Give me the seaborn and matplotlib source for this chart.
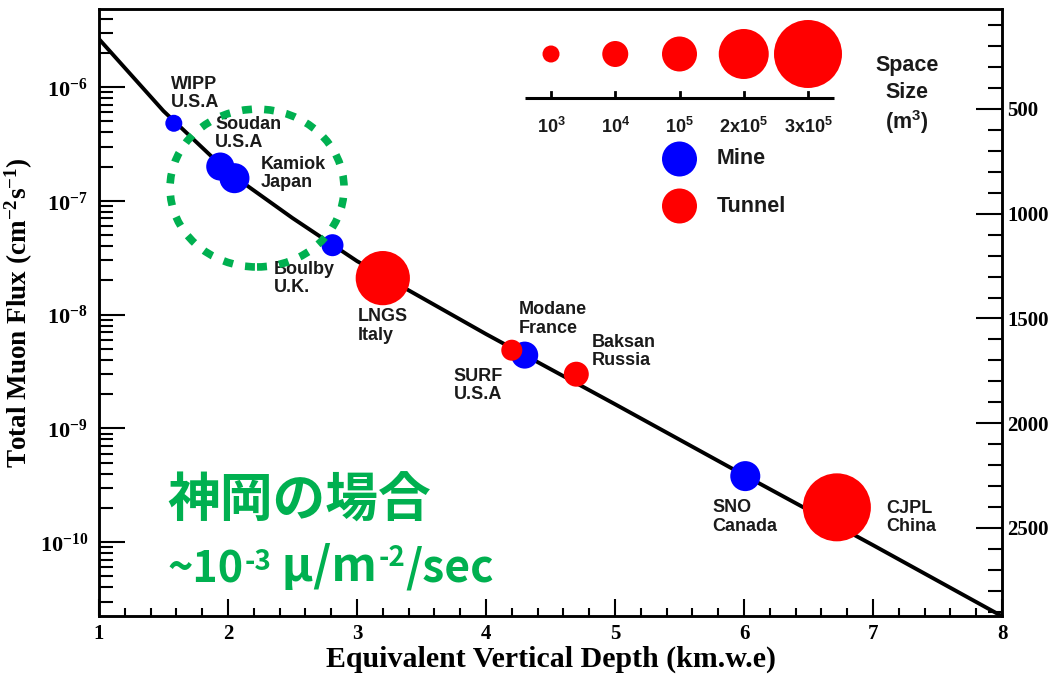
import numpy as np
import pandas as pd
import seaborn as sns
import matplotlib.pyplot as plt
from matplotlib.patches import Ellipse
from matplotlib.ticker import LogLocator, MultipleLocator, FixedLocator, FuncFormatter, NullFormatter

plt.rcParams['mathtext.fontset'] = 'custom'
plt.rcParams['mathtext.rm'] = 'Liberation Serif:bold'
plt.rcParams['mathtext.it'] = 'Liberation Serif:bold'
plt.rcParams['mathtext.bf'] = 'Liberation Serif:bold'
plt.rcParams['mathtext.sf'] = 'Liberation Sans:bold'

# flux vs depth curve
depth_curve = [1, 1.5, 2, 2.5, 3, 4, 5, 6, 7, 8]
flux_curve = [2.64e-6, 6.15e-7, 1.79e-7, 7.05e-8, 2.95e-8, 6.74e-9, 1.63e-9, 3.88e-10, 9.4e-11, 2.23e-11]

# underground labs
labs = ['WIPP', 'Soudan', 'Kamiok', 'Boulby', 'LNGS', 'Modane', 'SURF', 'Baksan', 'SNO', 'CJPL']
countries = ['U.S.A', 'U.S.A', 'Japan', 'U.K.', 'Italy', 'France', 'U.S.A', 'Russia', 'Canada', 'China']
lab_kind = ['Mine', 'Mine', 'Mine', 'Mine', 'Tunnel', 'Mine', 'Tunnel', 'Tunnel', 'Mine', 'Tunnel']
lab_depth = [1.58, 1.94, 2.05, 2.81, 3.20, 4.30, 4.20, 4.70, 6.01, 6.72]
lab_flux = [4.8e-7, 2.0e-7, 1.58e-7, 4.07e-8, 2.09e-8, 4.4e-9, 4.86e-9, 2.99e-9, 3.8e-10, 2.02e-10]
lab_volume = [1e3, 1.7e4, 2.8e4, 3.6e3, 2.2e5, 1.3e4, 2.8e3, 7.7e3, 2.8e4, 3.3e5]

# space size scale
size_ref = [1e3, 1e4, 1e5, 2e5, 3e5]
size_ref_labels = [r'$\mathsf{10^{3}}$', r'$\mathsf{10^{4}}$', r'$\mathsf{10^{5}}$',
                   r'$\mathsf{2x10^{5}}$', r'$\mathsf{3x10^{5}}$']

# axis ticks
flux_ticks = [1e-10, 1e-9, 1e-8, 1e-7, 1e-6]
right_ticks = [500, 1000, 1500, 2000, 2500]

# styles / layout
ref_radius_px = [8.5, 13, 17.5, 25, 34]
label_offsets = [(-3, 30), (-5, 33), (26, 5), (-59, -33), (-25, -48), (-6, 36),
                 (-58, -35), (15, 23), (-33, -41), (49, -10)]
BLUE = '#0000ff'
RED = '#ff0000'
GREEN = '#00b050'
DPI = 100


def marker_area(v):
    r = np.interp(np.log10(v), np.log10(size_ref), ref_radius_px)
    return (2 * r * 72 / DPI) ** 2


fig = plt.figure(figsize=(10.53, 6.79), dpi=DPI)
ax = fig.add_axes([99 / 1053, 1 - 616 / 679, 903 / 1053, 607 / 679])

sns.lineplot(x=depth_curve, y=flux_curve, ax=ax, color='black', lw=2.8)

df = pd.DataFrame({'depth': lab_depth, 'flux': lab_flux, 'kind': lab_kind, 'volume': lab_volume})
sns.scatterplot(data=df, x='depth', y='flux', hue='kind', palette={'Mine': BLUE, 'Tunnel': RED},
                size='volume', sizes={v: marker_area(v) for v in lab_volume},
                linewidth=0, legend=False, zorder=3, ax=ax)

for lab, c, d, f, off in zip(labs, countries, lab_depth, lab_flux, label_offsets):
    ax.annotate(f'{lab}\n{c}', xy=(d, f), xytext=off, textcoords='offset pixels',
                ha='left', va='center', fontsize=13, fontweight='bold',
                family='Liberation Sans', color='#1a1a1a', linespacing=1.1, zorder=4)

ax.set_yscale('log')
ax.set_xlim(1, 8)
ax.set_ylim(2.24e-11, 4.85e-6)
ax.set_xlabel('Equivalent Vertical Depth (km.w.e)', fontsize=21.5, fontweight='bold',
              family='Liberation Serif', labelpad=1)
ax.set_ylabel(r'Total Muon Flux (cm$^{-2}$s$^{-1}$)', fontsize=19.5, fontweight='bold',
              family='Liberation Serif', labelpad=3)
ax.set_xticks(range(1, 9))
ax.xaxis.set_minor_locator(MultipleLocator(0.2))
ax.yaxis.set_major_locator(FixedLocator(flux_ticks))
ax.yaxis.set_minor_locator(LogLocator(base=10, subs=np.arange(2, 10), numticks=20))
ax.yaxis.set_minor_formatter(NullFormatter())
ax.yaxis.set_major_formatter(FuncFormatter(lambda v, p: '$10^{%d}$' % int(round(np.log10(v)))))
ax.tick_params(axis='x', which='major', direction='in', length=12, width=1.5, labelsize=15, pad=6)
ax.tick_params(axis='x', which='minor', direction='in', length=6, width=1.5)
ax.tick_params(axis='y', which='major', direction='in', length=19, width=1.5, labelsize=16, pad=8)
ax.tick_params(axis='y', which='minor', direction='in', length=10, width=1.5)
for lbl in ax.get_xticklabels():
    lbl.set_family('Liberation Serif')
    lbl.set_fontweight('bold')
for s in ax.spines.values():
    s.set_linewidth(1.8)

ax2 = ax.twinx()
ax2.set_ylim(2920, 23)
ax2.set_yticks(right_ticks)
ax2.yaxis.set_minor_locator(MultipleLocator(100))
ax2.tick_params(axis='y', which='major', direction='in', length=19, width=1.5, labelsize=15, pad=4)
ax2.tick_params(axis='y', which='minor', direction='in', length=10, width=1.5)
for lbl in ax2.get_yticklabels():
    lbl.set_family('Liberation Serif')
    lbl.set_fontweight('bold')
for s in ax2.spines.values():
    s.set_linewidth(1.8)

# Kamioka region highlight
ax.add_patch(Ellipse((0.175, 0.705), 0.1927, 0.260, transform=ax.transAxes, fill=False,
                     ec=GREEN, lw=5.5, ls=(0, (1.3, 1.6)), zorder=6))

cjk = ['Noto Sans CJK JP', 'DejaVu Sans']
ax.text(0.0753, 0.1886, '神岡の場合', transform=ax.transAxes, fontsize=38, fontweight='bold',
        family=cjk, color=GREEN, va='center', ha='left')
t = ax.text(0.0753, 0.056, '~10', transform=ax.transAxes, fontsize=31, fontweight='bold',
            family=cjk, color=GREEN, va='baseline', ha='left')
s1 = ax.annotate('-3', xy=(1, 1), xycoords=t, xytext=(1, -1), textcoords='offset points',
                 fontsize=20, fontweight='bold', family=cjk, color=GREEN, va='top', ha='left')
t2 = ax.annotate(' μ/m', xy=(1, 0), xycoords=(s1, t), fontsize=34, fontweight='bold',
                 family=cjk, color=GREEN, va='bottom', ha='left')
s2 = ax.annotate('-2', xy=(1, 1), xycoords=t2, xytext=(1, -1), textcoords='offset points',
                 fontsize=20, fontweight='bold', family=cjk, color=GREEN, va='top', ha='left')
ax.annotate('/sec', xy=(1, 0), xycoords=(s2, t), fontsize=32, fontweight='bold',
            family=cjk, color=GREEN, va='bottom', ha='left')

# size / type legend
lax = fig.add_axes([500 / 1053, 1 - 240 / 679, 460 / 1053, 230 / 679])
idx = np.arange(len(size_ref))
sns.scatterplot(x=idx, y=[54] * len(idx), size=size_ref, sizes={v: marker_area(v) for v in size_ref},
                color=RED, linewidth=0, legend=False, ax=lax)
lax.plot([-0.405, 4.405], [98, 98], color='black', lw=2.2, solid_capstyle='butt')
for i, lbl in zip(idx, size_ref_labels):
    lax.plot([i, i], [98, 92], color='black', lw=2)
    lax.text(i, 127, lbl, ha='center', va='center', fontsize=13, color='#1a1a1a')
lax.text(5.54, 65, 'Space', ha='center', va='center', fontsize=15.5, fontweight='bold',
         family='Liberation Sans', color='#1a1a1a')
lax.text(5.54, 93, 'Size', ha='center', va='center', fontsize=15.5, fontweight='bold',
         family='Liberation Sans', color='#1a1a1a')
lax.text(5.54, 122, r'$\mathsf{(m^{3})}$', ha='center', va='center', fontsize=15.5, color='#1a1a1a')
kinds = ['Mine', 'Tunnel']
sns.scatterplot(x=[2, 2], y=[159, 206], hue=kinds, palette={'Mine': BLUE, 'Tunnel': RED},
                s=marker_area(1e5), linewidth=0, legend=False, ax=lax)
for k, yy in zip(kinds, [159, 206]):
    lax.text(2.58, yy, k, ha='left', va='center', fontsize=15.5, fontweight='bold',
             family='Liberation Sans', color='#1a1a1a')
lax.set_xlim(-0.794, 6.366)
lax.set_ylim(240, 10)
lax.set_xlabel('')
lax.set_ylabel('')
lax.set_axis_off()

fig.savefig('out.png', dpi=DPI)
